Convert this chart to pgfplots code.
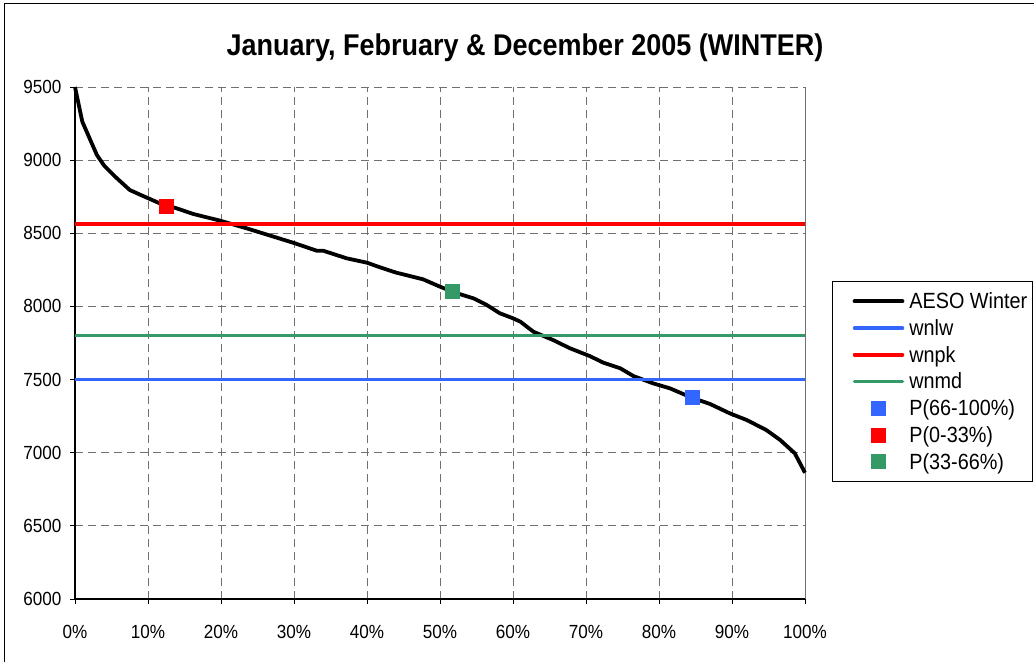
\documentclass[border=0pt]{standalone}
\usepackage{pgfplots}
\pgfplotsset{compat=1.18}
\usepackage{fontspec}
\setmainfont{Liberation Sans}[FakeStretch=0.9]
\definecolor{xlblue}{HTML}{3366FF}
\definecolor{xlred}{HTML}{FF0000}
\definecolor{xlgreen}{HTML}{339966}
\definecolor{gridgray}{HTML}{707070}
\begin{document}
\begin{tikzpicture}
\path[use as bounding box] (0pt,0pt) rectangle (1034pt,662pt);
\draw[line width=1.3pt] (4.5pt,0pt) -- (4.5pt,658.3pt) -- (1034pt,658.3pt);
\node[font=\fontsize{30}{35}\selectfont\bfseries] at (525pt,614pt) {January, February \& December 2005 (WINTER)};
\begin{axis}[
  at={(75pt,63pt)}, anchor=south west,
  scale only axis, width=730pt, height=512pt,
  xmin=0, xmax=100, ymin=6000, ymax=9500,
  clip=false,
  axis line style={draw=none},
  xtick={0,10,...,100},
  xticklabels={0\%,10\%,20\%,30\%,40\%,50\%,60\%,70\%,80\%,90\%,100\%},
  ytick={6000,6500,...,9500},
  yticklabels={6000,6500,7000,7500,8000,8500,9000,9500},
  tick label style={font=\fontsize{19}{22}\selectfont},
  xticklabel style={yshift=-18pt},
  yticklabel style={xshift=-5pt},
  tick pos=left,
  tick align=outside,
  major tick length=5pt,
  every tick/.style={black, line width=0.8pt},
  grid=major,
  major grid style={gridgray, line width=1pt, dash pattern=on 8pt off 5pt},
  legend cell align=left,
  legend style={at={(rel axis cs:1.037,0.621)}, anchor=north west,
    draw=black, line width=1.2pt, fill=white,
    font=\fontsize{22}{24}\selectfont,
    inner xsep=3pt, inner ysep=9pt, row sep=5.3pt,
    nodes={inner sep=2pt}},
  legend image code/.code={\path (0pt,0pt) (68pt,0pt); \draw[mark repeat=2,mark phase=2,line cap=round,#1] plot coordinates {(17pt,0pt)(41pt,0pt)(65pt,0pt)};},
]
\draw[black, line width=1.3pt] (rel axis cs:0,0) -- (rel axis cs:0,1);
\draw[black, line width=1.3pt] (rel axis cs:0,0) -- (rel axis cs:1,0);
\draw[gridgray, line width=1pt] (rel axis cs:1,0) -- (rel axis cs:1,1);
\addplot[black, line width=3.8pt, line join=round] coordinates {
(0,9500) (1,9263) (2,9149) (3,9035) (4,8962) (5.5,8887) (7.5,8796) (9,8762)
(11.6,8705) (13.9,8671) (16.2,8632) (19.9,8586) (23.5,8534) (27.2,8477)
(30.1,8432) (33.1,8381) (34,8381) (37.2,8329) (40,8299) (41.8,8267) (44,8231)
(47.7,8185) (50,8135) (52,8095) (54.6,8055) (56.4,8010) (58.2,7953) (60,7919)
(61,7896) (62.8,7827) (65.5,7770) (67.8,7714) (70.5,7661) (72.4,7615)
(74.7,7577) (76.5,7524) (79.2,7474) (81.5,7440) (84.5,7376) (87,7333)
(89.7,7269) (92,7224) (94.7,7155) (96.6,7087) (98.6,6996) (100,6863)
};
\addlegendentry{AESO Winter}
\addplot[xlblue, line width=3.5pt] coordinates {(0,7500) (100,7500)};
\addlegendentry{wnlw}
\addplot[xlred, line width=3.5pt] coordinates {(0,8565) (100,8565)};
\addlegendentry{wnpk}
\addplot[xlgreen, line width=3.5pt] coordinates {(0,7800) (100,7800)};
\addlegendentry{wnmd}
\addplot[only marks, mark=square*, mark size=7pt, xlblue, mark options={line width=0pt}] coordinates {(84.6,7375)};
\addlegendentry{P(66-100\%)}
\addplot[only marks, mark=square*, mark size=7pt, xlred, mark options={line width=0pt}] coordinates {(12.6,8680)};
\addlegendentry{P(0-33\%)}
\addplot[only marks, mark=square*, mark size=7pt, xlgreen, mark options={line width=0pt}] coordinates {(51.7,8100)};
\addlegendentry{P(33-66\%)}
\end{axis}
\end{tikzpicture}
\end{document}
